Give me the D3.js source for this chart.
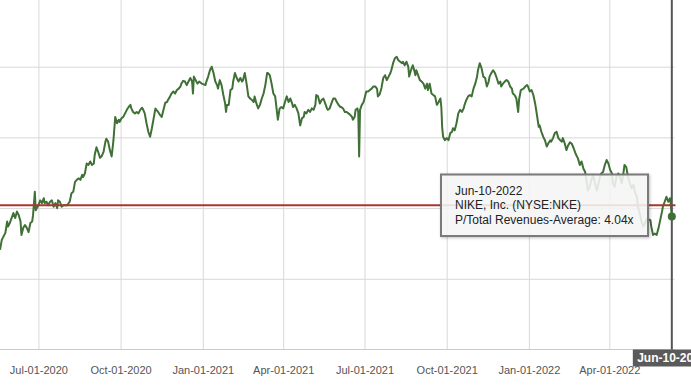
<!DOCTYPE html>
<html>
<head>
<meta charset="utf-8">
<script src="https://cdn.jsdelivr.net/npm/d3@7"></script>
<style>
  body { margin: 0; background: #fff; overflow: hidden; }
  svg { display: block; font-family: "Liberation Sans", Arial, sans-serif; }
</style>
</head>
<body>
<div id="my_dataviz"></div>
<script>

// data (P/Total Revenues, NKE)
var dates = [
  "2020-05-19","2020-05-21","2020-05-25","2020-05-27","2020-05-28","2020-05-30","2020-06-03","2020-06-05","2020-06-07","2020-06-09","2020-06-11","2020-06-12","2020-06-14","2020-06-16","2020-06-18","2020-06-20","2020-06-22","2020-06-24","2020-06-25","2020-06-27","2020-06-28","2020-07-01","2020-07-03","2020-07-05","2020-07-07","2020-07-08","2020-07-10","2020-07-12","2020-07-14","2020-07-16","2020-07-18","2020-07-20","2020-07-22","2020-07-23","2020-07-25","2020-07-27","2020-07-29","2020-08-02","2020-08-05","2020-08-07","2020-08-09","2020-08-11","2020-08-13","2020-08-15","2020-08-17","2020-08-19","2020-08-20","2020-08-22","2020-08-24","2020-08-26","2020-08-28","2020-08-30","2020-09-01",
  "2020-09-02","2020-09-04","2020-09-06","2020-09-08","2020-09-10","2020-09-12","2020-09-14","2020-09-15","2020-09-17","2020-09-19","2020-09-21","2020-09-23","2020-09-25","2020-09-27","2020-09-29","2020-09-30","2020-10-02","2020-10-04","2020-10-06","2020-10-08","2020-10-10","2020-10-12","2020-10-13","2020-10-15","2020-10-17","2020-10-19","2020-10-21","2020-10-23","2020-10-25","2020-10-26","2020-10-28","2020-10-30","2020-11-01","2020-11-03","2020-11-05","2020-11-07","2020-11-09","2020-11-10","2020-11-12","2020-11-14","2020-11-16","2020-11-18","2020-11-20","2020-11-22","2020-11-23","2020-11-25","2020-11-27","2020-11-29","2020-12-01","2020-12-03","2020-12-05","2020-12-07","2020-12-08","2020-12-10","2020-12-12","2020-12-14","2020-12-16","2020-12-18","2020-12-20","2020-12-21","2020-12-22","2020-12-24","2020-12-26","2020-12-28","2020-12-31",
  "2021-01-04","2021-01-05","2021-01-07","2021-01-09","2021-01-11","2021-01-13","2021-01-15","2021-01-17","2021-01-18","2021-01-20","2021-01-22","2021-01-24","2021-01-26","2021-01-27","2021-01-28","2021-01-30","2021-02-01","2021-02-03","2021-02-04","2021-02-06","2021-02-08","2021-02-10","2021-02-12","2021-02-14","2021-02-15","2021-02-17","2021-02-19","2021-02-21","2021-02-23","2021-02-25","2021-02-27","2021-02-28","2021-03-02","2021-03-04","2021-03-06","2021-03-08","2021-03-10","2021-03-12","2021-03-14","2021-03-15","2021-03-17","2021-03-19","2021-03-21","2021-03-23","2021-03-25","2021-03-26","2021-03-28","2021-03-30","2021-04-01",
  "2021-04-03","2021-04-05","2021-04-07","2021-04-09","2021-04-11","2021-04-12","2021-04-14","2021-04-16","2021-04-18","2021-04-20","2021-04-22","2021-04-24","2021-04-25","2021-04-27","2021-04-29","2021-05-01","2021-05-03","2021-05-05","2021-05-07","2021-05-08","2021-05-10","2021-05-12","2021-05-14","2021-05-16","2021-05-18","2021-05-20","2021-05-21","2021-05-23","2021-05-25","2021-05-27","2021-05-29","2021-05-31","2021-06-02","2021-06-04","2021-06-05","2021-06-07","2021-06-09","2021-06-11","2021-06-13","2021-06-15","2021-06-17","2021-06-18","2021-06-20","2021-06-21","2021-06-23","2021-06-24","2021-06-25","2021-06-26","2021-06-28","2021-06-30",
  "2021-07-02","2021-07-03","2021-07-05","2021-07-07","2021-07-09","2021-07-11","2021-07-13","2021-07-15","2021-07-16","2021-07-18","2021-07-20","2021-07-22","2021-07-24","2021-07-26","2021-07-28","2021-07-30","2021-07-31","2021-08-02","2021-08-04","2021-08-06","2021-08-08","2021-08-10","2021-08-12","2021-08-13","2021-08-15","2021-08-17","2021-08-19","2021-08-20","2021-08-22","2021-08-24","2021-08-25","2021-08-27","2021-08-28","2021-08-30","2021-09-01","2021-09-03","2021-09-05","2021-09-07","2021-09-09","2021-09-10","2021-09-12","2021-09-14","2021-09-16","2021-09-18","2021-09-20","2021-09-22","2021-09-24","2021-09-25","2021-09-26","2021-09-27","2021-09-29","2021-10-01","2021-10-03","2021-10-05","2021-10-07","2021-10-08","2021-10-10","2021-10-12","2021-10-14","2021-10-16","2021-10-18","2021-10-20","2021-10-21","2021-10-23","2021-10-25","2021-10-27","2021-10-29","2021-10-31","2021-11-02","2021-11-04","2021-11-05","2021-11-07","2021-11-09","2021-11-11","2021-11-13","2021-11-15","2021-11-17","2021-11-18","2021-11-20","2021-11-22","2021-11-24","2021-11-26","2021-11-28","2021-11-30","2021-12-01","2021-12-03","2021-12-05","2021-12-07","2021-12-09","2021-12-11","2021-12-13","2021-12-14","2021-12-16","2021-12-18","2021-12-20","2021-12-21","2021-12-23","2021-12-26","2021-12-28","2021-12-30","2021-12-31",
  "2022-01-02","2022-01-04","2022-01-06","2022-01-08","2022-01-10","2022-01-12","2022-01-13","2022-01-15","2022-01-17","2022-01-19","2022-01-21","2022-01-23","2022-01-25","2022-01-26","2022-01-28","2022-01-30","2022-02-01","2022-02-03","2022-02-05","2022-02-07","2022-02-08","2022-02-10","2022-02-12","2022-02-14","2022-02-16","2022-02-18","2022-02-20","2022-02-22","2022-02-23","2022-02-25","2022-02-27","2022-03-01","2022-03-03","2022-03-05","2022-03-07","2022-03-08","2022-03-10","2022-03-12","2022-03-14","2022-03-16","2022-03-18","2022-03-20","2022-03-22","2022-03-23","2022-03-25","2022-03-27","2022-03-29","2022-03-31","2022-04-02","2022-04-04","2022-04-05","2022-04-07","2022-04-09","2022-04-11","2022-04-13","2022-04-15","2022-04-17","2022-04-18","2022-04-20","2022-04-22","2022-04-24","2022-04-26","2022-04-28","2022-04-30","2022-05-02","2022-05-03","2022-05-05","2022-05-07","2022-05-09","2022-05-11","2022-05-13","2022-05-17","2022-05-18","2022-05-20","2022-05-22","2022-05-24","2022-05-26","2022-05-28","2022-05-30","2022-05-31","2022-06-02","2022-06-04","2022-06-06","2022-06-08","2022-06-09","2022-06-10"
];

var values = [
  3.41,3.55,3.65,3.81,3.74,3.79,3.93,3.86,3.95,3.90,3.81,3.62,3.72,3.76,3.72,3.66,3.79,3.81,3.90,4.23,3.97,4.04,4.11,4.07,4.14,4.07,4.09,4.04,4.09,4.11,4.02,4.07,4.00,4.11,4.09,4.02,4.04,4.04,4.09,4.21,4.23,4.37,4.40,4.42,4.40,4.47,4.44,4.49,4.63,4.61,4.66,4.61,4.63,
  4.75,4.86,4.79,4.71,4.74,4.80,4.94,4.98,4.94,4.82,4.73,4.96,5.29,5.20,5.25,5.22,5.27,5.29,5.34,5.39,5.43,5.46,5.41,5.36,5.34,5.36,5.34,5.39,5.42,5.40,5.34,5.20,5.08,5.01,5.13,5.27,5.41,5.39,5.36,5.32,5.29,5.39,5.49,5.50,5.53,5.57,5.62,5.65,5.62,5.67,5.69,5.72,5.76,5.80,5.79,5.74,5.79,5.84,5.79,5.62,5.86,5.81,5.76,5.79,5.76,
  5.74,5.79,5.86,5.95,6.00,5.91,5.79,5.74,5.69,5.81,5.74,5.60,5.48,5.36,5.46,5.46,5.67,5.69,5.79,5.91,5.84,5.79,5.84,5.79,5.81,5.91,5.76,5.58,5.55,5.53,5.50,5.58,5.48,5.41,5.46,5.55,5.62,5.74,5.91,5.91,5.88,5.76,5.62,5.58,5.36,5.25,5.41,5.43,5.41,
  5.50,5.58,5.50,5.55,5.48,5.43,5.46,5.41,5.34,5.17,5.27,5.29,5.36,5.34,5.39,5.36,5.41,5.39,5.46,5.60,5.58,5.48,5.53,5.55,5.48,5.41,5.39,5.41,5.48,5.55,5.55,5.50,5.46,5.43,5.43,5.41,5.36,5.36,5.34,5.32,5.29,5.25,5.29,5.39,5.41,5.36,4.73,5.39,5.46,5.50,
  5.60,5.65,5.65,5.67,5.69,5.72,5.72,5.69,5.58,5.61,5.70,5.84,5.88,5.81,5.86,5.91,5.95,6.05,6.12,6.14,6.09,6.07,6.05,6.07,6.02,6.07,6.00,5.86,5.95,6.02,5.98,5.88,5.95,5.88,5.81,5.79,5.76,5.69,5.76,5.67,5.76,5.62,5.60,5.58,5.46,5.50,5.55,5.43,5.13,5.01,4.96,4.99,4.96,5.06,5.08,5.13,5.10,5.20,5.34,5.39,5.36,5.41,5.46,5.53,5.58,5.60,5.58,5.69,5.76,5.86,5.95,6.05,5.98,5.86,5.84,5.72,5.79,5.86,5.91,5.95,5.91,5.84,5.76,5.79,5.72,5.76,5.79,5.81,5.79,5.72,5.69,5.62,5.60,5.55,5.36,5.53,5.67,5.69,5.72,5.74,5.72,
  5.65,5.67,5.60,5.48,5.32,5.15,5.17,5.08,5.01,4.96,4.87,4.92,4.96,4.94,4.99,5.06,5.08,4.99,4.96,4.94,4.99,4.92,4.82,4.89,4.93,4.91,4.85,4.78,4.75,4.70,4.61,4.66,4.56,4.51,4.35,4.25,4.30,4.40,4.47,4.35,4.25,4.35,4.47,4.49,4.51,4.61,4.68,4.63,4.54,4.49,4.35,4.30,4.44,4.49,4.44,4.35,4.51,4.61,4.58,4.44,4.35,4.28,4.33,4.21,4.16,4.02,3.93,3.81,3.74,3.78,3.85,3.83,3.74,3.62,3.64,3.62,3.71,3.83,3.95,4.02,4.09,4.16,4.09,4.14,4.04,3.88
];

var average = 4.04;
var tickLabels = ["2020-07-01","2020-10-01","2021-01-01","2021-04-01","2021-07-01","2021-10-01","2022-01-01","2022-04-01"];
var gridValues = [3, 4, 5, 6, 7];
var tooltipLines = ["Jun-10-2022", "NIKE, Inc. (NYSE:NKE)", "P/Total Revenues-Average: 4.04x"];

// set the dimensions of the graph
var width = 691, height = 389;
var plot = {left: 0, right: 674.5, top: 0, bottom: 349.5};

var parse = d3.timeParse("%Y-%m-%d");
var fmt = d3.timeFormat("%b-%d-%Y");
var data = d3.zip(dates, values).map(function(d) { return {date: parse(d[0]), value: d[1]}; });
console.log(dates.length, values.length)

var svg = d3.select("#my_dataviz")
  .append("svg")
    .attr("width", width)
    .attr("height", height);

var x = d3.scaleTime()
  .domain([parse("2020-05-19"), parse("2022-06-13")])
  .range([plot.left, plot.right]);

var y = d3.scaleLinear()
  .domain([2, 6])
  .range([plot.bottom, 66.7]);

var tickDates = tickLabels.map(parse);

// vertical grid
svg.append("g")
  .attr("transform", "translate(0," + plot.bottom + ")")
  .call(d3.axisBottom(x).tickValues(tickDates).tickSize(-plot.bottom).tickFormat(""))
  .call(function(g) { g.select(".domain").remove(); })
  .selectAll("line")
    .attr("stroke", "#d8d8d8");

// horizontal grid
svg.append("g")
  .call(d3.axisLeft(y).tickValues(gridValues).tickSize(-plot.right).tickFormat(""))
  .call(function(g) { g.select(".domain").remove(); })
  .selectAll("line")
    .attr("stroke", "#d8d8d8");

// x axis line + labels
svg.append("line")
  .attr("x1", 0).attr("x2", plot.right)
  .attr("y1", plot.bottom).attr("y2", plot.bottom)
  .attr("stroke", "#c4cad6");

svg.append("g")
  .attr("transform", "translate(0," + plot.bottom + ")")
  .call(d3.axisBottom(x).tickValues(tickDates).tickSize(0).tickPadding(17).tickFormat(fmt))
  .call(function(g) { g.select(".domain").remove(); })
  .selectAll("text")
    .attr("font-family", "'Liberation Sans', Arial, sans-serif")
    .attr("font-size", "11px")
    .attr("fill", "#555");

// the series
var line = d3.line()
  .x(function(d) { return x(d.date); })
  .y(function(d) { return y(d.value); });

svg.append("path")
  .datum(data)
  .attr("fill", "none")
  .attr("stroke", "#3f7035")
  .attr("stroke-width", 2)
  .attr("stroke-linejoin", "round")
  .attr("d", line);

// average line
svg.append("line")
  .attr("x1", 0).attr("x2", plot.right + 1)
  .attr("y1", y(average)).attr("y2", y(average))
  .attr("stroke", "#a8392f")
  .attr("stroke-width", 2);

// crosshair
var last = data[data.length - 1];
var cx = x(last.date);
svg.append("line")
  .attr("x1", cx).attr("x2", cx)
  .attr("y1", 0).attr("y2", plot.bottom)
  .attr("stroke", "#555")
  .attr("stroke-width", 2);

svg.append("circle")
  .attr("cx", cx)
  .attr("cy", y(last.value))
  .attr("r", 4)
  .attr("fill", "#3f7035");

// crosshair label
var lab = svg.append("g");
lab.append("rect")
  .attr("x", cx - 39).attr("y", plot.bottom)
  .attr("width", 78).attr("height", 17)
  .attr("fill", "#5a5a5a");
lab.append("text")
  .attr("x", cx).attr("y", plot.bottom + 12.5)
  .attr("text-anchor", "middle")
  .attr("font-size", "12px")
  .attr("font-weight", "bold")
  .attr("fill", "#fff")
  .text(fmt(last.date));

// tooltip
var defs = svg.append("defs");
var f = defs.append("filter").attr("id", "shadow").attr("x", "-10%").attr("y", "-10%").attr("width", "130%").attr("height", "140%");
f.append("feDropShadow").attr("dx", 1).attr("dy", 1).attr("stdDeviation", 1.5).attr("flood-color", "#000").attr("flood-opacity", 0.25);

var tip = svg.append("g").attr("transform", "translate(441,174.5)");
tip.append("rect")
  .attr("width", 207).attr("height", 61.5)
  .attr("fill", "rgba(248,248,248,0.86)")
  .attr("stroke", "#7a7a7a")
  .attr("stroke-width", 2)
  .attr("filter", "url(#shadow)");
tip.selectAll("text.tt")
  .data(tooltipLines)
  .enter()
  .append("text")
    .attr("class", "tt")
    .attr("x", 14)
    .attr("y", function(d, i) { return 20 + i * 14.8; })
    .attr("font-size", "12px")
    .attr("fill", "#222")
    .text(function(d) { return d; });

</script>
</body>
</html>
